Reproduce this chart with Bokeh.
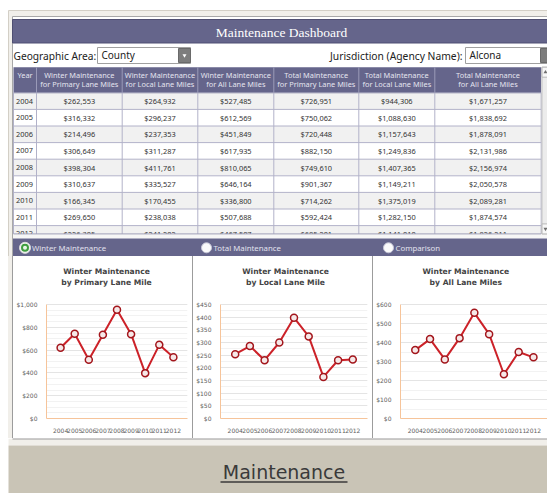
from bokeh.plotting import figure
from bokeh.layouts import column, row
from bokeh.models import (Range1d, Label, FixedTicker, SingleIntervalTicker,
                          NumeralTickFormatter, Spacer)
from bokeh.core.properties import value
from bokeh.embed import file_html
from bokeh.resources import INLINE

# ---------------- data ----------------
years = [2004, 2005, 2006, 2007, 2008, 2009, 2010, 2011, 2012]
winter_primary = [262553, 316332, 214496, 306649, 398304, 310637, 166345, 269650, 226305]
winter_local = [264932, 296237, 237353, 311287, 411761, 335527, 170455, 238038, 241202]
winter_all = [527485, 612569, 451849, 617935, 810065, 646164, 336800, 507688, 467507]
total_primary = [726951, 750062, 720448, 882150, 749610, 901367, 714262, 592424, 685201]
total_local = [944306, 1088630, 1157643, 1249836, 1407365, 1149211, 1375019, 1282150, 1141010]
total_all = [1671257, 1838692, 1878091, 2131986, 2156974, 2050578, 2089281, 1874574, 1826211]

per_mile_primary = [620, 743, 515, 734, 953, 740, 398, 646, 538]
per_mile_local = [254, 286, 230, 300, 398, 324, 164, 230, 233]
per_mile_all = [360, 418, 311, 423, 556, 444, 233, 350, 322]

headers = [["Year"],
           ["Winter Maintenance", "for Primary Lane Miles"],
           ["Winter Maintenance", "for Local Lane Miles"],
           ["Winter Maintenance", "for All Lane Miles"],
           ["Total Maintenance", "for Primary Lane Miles"],
           ["Total Maintenance", "for Local Lane Miles"],
           ["Total Maintenance", "for All Lane Miles"]]
tab_labels = ["Winter Maintenance", "Total Maintenance", "Comparison"]
chart_titles = [["Winter Maintenance", "by Primary Lane Mile"],
                ["Winter Maintenance", "by Local Lane Mile"],
                ["Winter Maintenance", "by All Lane Miles"]]
dashboard_title = "Maintenance Dashboard"
footer_text = "Maintenance"

# ---------------- styles ----------------
PURPLE = "#65658b"
FONT = value("Noto Sans")
TFONT = value("DejaVu Sans")
W = 547

# ---------------- top figure (frame, header, filters, table, tabs) ----------------
top = figure(width=W, height=256, x_range=Range1d(0, W), y_range=Range1d(256, 0),
             output_backend="svg", toolbar_location=None, min_border=0,
             x_axis_location=None, y_axis_location=None, outline_line_color=None,
             background_fill_color="white", border_fill_color="white")
top.grid.visible = False

# outer frame and inner panel
top.quad(left=[8], right=[560], top=[10], bottom=[260], fill_color="#f1efea", line_color="#d3cfc6")
top.quad(left=[12], right=[560], top=[16], bottom=[260], fill_color="white", line_color="#a8a8a8")
# title bar
top.quad(left=[12], right=[560], top=[19], bottom=[42.5], fill_color=PURPLE, line_color="#4f4f72")
top.text(x=[281], y=[31.5], text=[dashboard_title], text_align="center", text_baseline="middle",
         text_font=value("Liberation Serif"), text_font_size="13.5px", text_color="white")

# filters
top.text(x=[13], y=[55], text=["Geographic Area:"], text_align="left", text_baseline="middle",
         text_font=FONT, text_font_size="10.2px", text_color="#222222")
top.quad(left=[97], right=[190], top=[47], bottom=[63], fill_color="white", line_color="#a0a0a0")
top.quad(left=[178], right=[190], top=[48], bottom=[62], fill_color="#7d7d7d", line_color="#6a6a6a")
top.scatter(x=[184], y=[55], marker="inverted_triangle", size=4, fill_color="white", line_color=None)
top.text(x=[101], y=[54.5], text=["County"], text_align="left", text_baseline="middle",
         text_font=FONT, text_font_size="10px", text_color="#222222")
top.text(x=[462], y=[55], text=["Jurisdiction (Agency Name):"], text_align="right", text_baseline="middle",
         text_font=FONT, text_font_size="10.3px", text_color="#222222")
top.quad(left=[465], right=[553], top=[47], bottom=[63], fill_color="white", line_color="#a0a0a0")
top.quad(left=[540], right=[553], top=[48], bottom=[62], fill_color="#7d7d7d", line_color="#6a6a6a")
top.text(x=[469], y=[54.5], text=["Alcona"], text_align="left", text_baseline="middle",
         text_font=FONT, text_font_size="10px", text_color="#222222")

# table
col_edges = [13, 36, 121.7, 197.3, 273.3, 358.3, 434.3, 540.7]
head_top, head_bot, row_h = 66.7, 92.3, 16.6
table_bottom = 233.4
columns = [winter_primary, winter_local, winter_all, total_primary, total_local, total_all]

top.quad(left=[col_edges[0]], right=[col_edges[-1]], top=[head_top], bottom=[head_bot],
         fill_color=PURPLE, line_color=None)
for j in range(len(headers)):
    cx = (col_edges[j] + col_edges[j + 1]) / 2
    for k, t in enumerate(headers[j]):
        top.text(x=[cx], y=[74.5 + 9 * k], text=[t], text_align="center", text_baseline="middle",
                 text_font=FONT, text_font_size="7.4px", text_color="#e4e4ef")

for i, yr in enumerate(years):
    y0 = head_bot + row_h * i
    y1 = min(y0 + row_h, table_bottom)
    fill = "#f1f1f1" if i % 2 == 0 else "#ffffff"
    top.quad(left=[col_edges[0]], right=[col_edges[-1]], top=[y0], bottom=[y1],
             fill_color=fill, line_color=None)
    yc = y0 + row_h / 2
    top.text(x=[col_edges[0] + 2.5], y=[yc], text=[str(yr)], text_align="left", text_baseline="middle",
             text_font=FONT, text_font_size="7.4px", text_color="#333333")
    for j, col in enumerate(columns):
        cx = (col_edges[j + 1] + col_edges[j + 2]) / 2
        top.text(x=[cx], y=[yc], text=["${:,}".format(col[i])], text_align="center",
                 text_baseline="middle", text_font=FONT, text_font_size="7.4px", text_color="#333333")

# clip last row
top.quad(left=[12.5], right=[560], top=[table_bottom], bottom=[238], fill_color="#f6f6f6", line_color=None)

# table grid lines
row_lines = [head_bot + row_h * i for i in range(1, len(years)) if head_bot + row_h * i < table_bottom]
top.segment(x0=[col_edges[0]] * len(row_lines), x1=[col_edges[-1]] * len(row_lines),
            y0=row_lines, y1=row_lines, line_color="#b2b2c9", line_width=1)
top.segment(x0=[col_edges[0]], x1=[col_edges[-1]], y0=[head_bot], y1=[head_bot], line_color="#8a8aa8", line_width=1)
top.segment(x0=col_edges[1:-1], x1=col_edges[1:-1], y0=[head_top] * 6, y1=[head_bot] * 6,
            line_color="#9a9ab8", line_width=1)
top.segment(x0=col_edges, x1=col_edges, y0=[head_bot] * 8, y1=[table_bottom] * 8,
            line_color="#b2b2c9", line_width=1)
top.segment(x0=[col_edges[0]], x1=[col_edges[-1]], y0=[table_bottom], y1=[table_bottom],
            line_color="#a0a0b8", line_width=1)

# table scrollbar
top.quad(left=[541.5], right=[553], top=[head_top], bottom=[table_bottom], fill_color="#ececec", line_color="#c4c4c4")
top.quad(left=[541.5, 541.5], right=[553, 553], top=[head_top, table_bottom - 10],
         bottom=[head_top + 10, table_bottom], fill_color="#f7f7f7", line_color="#b8b8b8")
top.scatter(x=[545, 545], y=[head_top + 5, table_bottom - 5], marker=["triangle", "inverted_triangle"],
            size=4, fill_color="#707070", line_color=None)

# tab bar
top.quad(left=[12.5], right=[560], top=[238], bottom=[256.5], fill_color=PURPLE, line_color=None)
tab_x = [24.5, 206, 388]
top.scatter(x=tab_x[1:], y=[247.3, 247.3], marker="circle", size=10,
            fill_color="#fbfbfb", line_color="#c8c8d8", line_width=1)
top.scatter(x=[tab_x[0]], y=[247.3], marker="circle", size=11, fill_color="#f4f4f4", line_color="#dcdcdc")
top.scatter(x=[tab_x[0]], y=[247.3], marker="circle", size=8, fill_color="#3f9e3f", line_color=None)
top.scatter(x=[tab_x[0]], y=[247.3], marker="circle", size=4, fill_color="#e8f5e8", line_color=None)
top.text(x=[t + 7 for t in tab_x], y=[247.3] * 3, text=tab_labels, text_align="left",
         text_baseline="middle", text_font=FONT, text_font_size="7.8px", text_color="#e2e2ee")


# ---------------- charts ----------------
CH_H, BOT = 182, 20
PLOT_H = 114   # pixel height of the value area (ymax at its top)


def make_chart(vals, ymax, step, minor, width, x_end, titles, title_x, left, right):
    frame_h = CH_H - BOT
    p = figure(width=width, height=CH_H, x_range=Range1d(2003, x_end),
               y_range=Range1d(0, ymax * frame_h / PLOT_H),
               output_backend="svg", toolbar_location=None,
               min_border_left=left, min_border_right=right, min_border_top=0, min_border_bottom=BOT,
               outline_line_color=None, background_fill_color="white", border_fill_color="white")
    for k, t in enumerate(titles):
        p.add_layout(Label(x=title_x, y=147 - 11.3 * k, x_units="screen", y_units="screen", text=t,
                           text_align="center", text_baseline="middle", text_font="DejaVu Sans",
                           text_font_size="7.6px", text_font_style="bold", text_color="#444444"))
    p.xaxis.ticker = FixedTicker(ticks=years)
    p.yaxis.ticker = SingleIntervalTicker(interval=step, num_minor_ticks=minor)
    p.yaxis.formatter = NumeralTickFormatter(format="$0,0")
    p.yaxis.bounds = (0, ymax)
    for ax in (p.xaxis, p.yaxis):
        ax.axis_line_color = "#f6c49a"
        ax.major_tick_line_color = None
        ax.minor_tick_line_color = None
        ax.major_label_text_font = "DejaVu Sans"
        ax.major_label_text_font_size = "6px"
        ax.major_label_text_color = "#5e5e5e"
        ax.major_label_standoff = 3
    p.xgrid.grid_line_color = None
    p.ygrid.bounds = (0, ymax)
    p.ygrid.grid_line_color = "#e4e4e4"
    p.ygrid.minor_grid_line_color = "#f2f2f2"
    p.line(years, vals, line_color="#cc2229", line_width=2)
    p.scatter(years, vals, marker="circle", size=7, fill_color="#f6e8e8",
              line_color="#a3161c", line_width=1.5)
    return p


c1 = make_chart(per_mile_primary, 1000, 200, 4, 179, 2013, chart_titles[0], 60, 29, 5)
c2 = make_chart(per_mile_local, 450, 50, 2, 179, 2013, chart_titles[1], 65, 24, 5)
c3 = make_chart(per_mile_all, 600, 100, 2, 174, 2012.95, chart_titles[2], 65.3, 24, 0)


def bar(w, color):
    return Spacer(width=w, height=CH_H, styles={"background-color": color})


charts = row(bar(8, "#ffffff"), bar(4, "#f1efea"), bar(1, "#9c9c9c"), c1, bar(1, "#9c9c9c"), c2,
             bar(1, "#9c9c9c"), c3, spacing=0)

# ---------------- footer ----------------
foot = figure(width=W, height=55, x_range=Range1d(0, W), y_range=Range1d(493, 438),
              output_backend="svg", toolbar_location=None, min_border=0,
              x_axis_location=None, y_axis_location=None, outline_line_color=None,
              background_fill_color="#ffffff", border_fill_color="#ffffff")
foot.grid.visible = False
foot.quad(left=[8], right=[560], top=[438], bottom=[445], fill_color="#f1efea", line_color=None)
foot.quad(left=[12], right=[560], top=[437.5], bottom=[439], fill_color="#9c9c9c", line_color=None)
foot.quad(left=[8], right=[560], top=[445], bottom=[500], fill_color="#c9c4b6", line_color=None)
foot.text(x=[283.5], y=[471], text=[footer_text], text_align="center", text_baseline="middle",
          text_font=TFONT, text_font_size="19px", text_color="#3a3a3a")
foot.segment(x0=[220], x1=[347], y0=[481.5], y1=[481.5], line_color="#3a3a3a", line_width=1.5)

layout = column(top, charts, foot, spacing=0)
open("out.html", "w").write(file_html(layout, INLINE))
